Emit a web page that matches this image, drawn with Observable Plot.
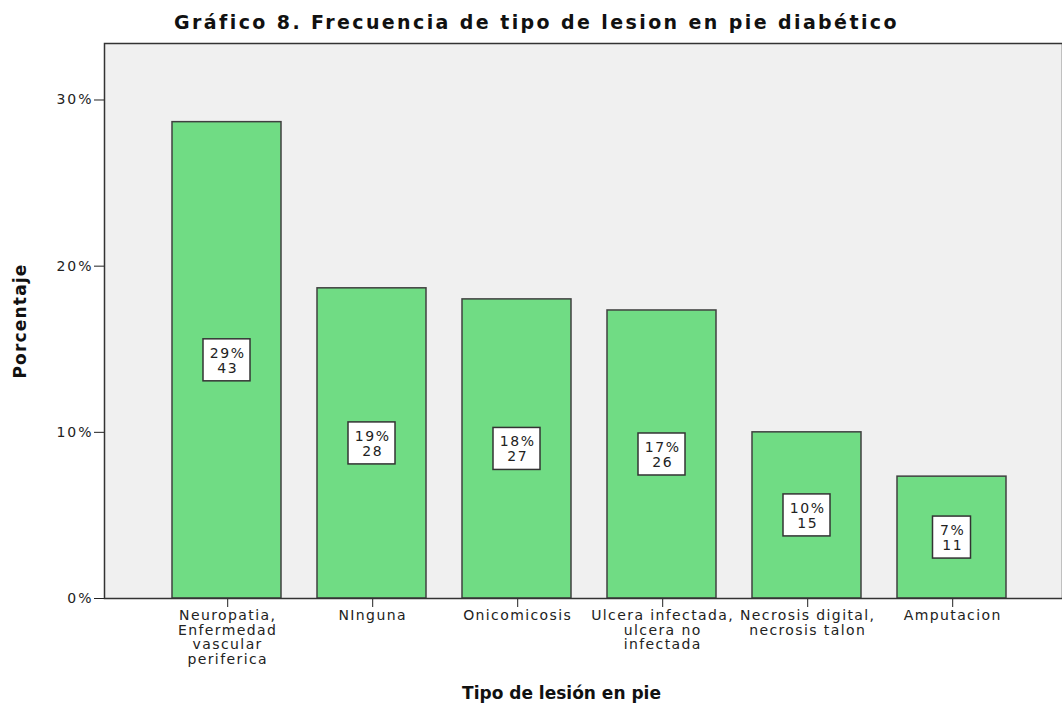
<!DOCTYPE html>
<html>
<head>
<meta charset="utf-8">
<script src="https://cdn.jsdelivr.net/npm/d3@7"></script>
<script src="https://cdn.jsdelivr.net/npm/@observablehq/plot@0.6"></script>
<style>
  html, body { margin: 0; padding: 0; background: white; }
  text[aria-label="title"] { letter-spacing: 2.4px; }
  text[aria-label="y title"] { letter-spacing: 1.2px; }
  g[aria-label="y-axis tick label"] text { letter-spacing: 2px; }
  g[aria-label="x-axis tick label"] text { letter-spacing: 1.4px; }
  text[aria-label="bar label"] { letter-spacing: 1.6px; }
</style>
</head>
<body>
<div id="chart"></div>
<script>
const titleText = "Gráfico 8. Frecuencia de tipo de lesion en pie diabético";
const xTitle = "Tipo de lesión en pie";
const yTitle = "Porcentaje";
const categories = [
  "Neuropatia, Enfermedad vascular periferica",
  "NInguna",
  "Onicomicosis",
  "Ulcera infectada, ulcera no infectada",
  "Necrosis digital, necrosis talon",
  "Amputacion"
];
const tickLabels = [
  "Neuropatia,\nEnfermedad\nvascular\nperiferica",
  "NInguna",
  "Onicomicosis",
  "Ulcera infectada,\nulcera no\ninfectada",
  "Necrosis digital,\nnecrosis talon",
  "Amputacion"
];
const counts = [43, 28, 27, 26, 15, 11];
const percentLabels = ["29%", "19%", "18%", "17%", "10%", "7%"];
const total = 150;
const yTicks = [0, 10, 20, 30];

const data = categories.map((c, i) => ({
  cat: c,
  pct: counts[i] / total * 100,
  pctLabel: percentLabels[i],
  label: percentLabels[i] + "\n" + counts[i]
}));
const wide = data.filter(d => d.pctLabel.length > 2);
const narrow = data.filter(d => d.pctLabel.length <= 2);

const boxStyle = { x: "cat", y1: d => d.pct / 2, y2: d => d.pct / 2, fill: "white", stroke: "#333", strokeWidth: 1.5,
  insetTop: -21, insetBottom: -21 };

const chart = Plot.plot({
  width: 1062,
  height: 709,
  marginLeft: 104,
  marginRight: 0,
  marginTop: 43,
  marginBottom: 111,
  style: { fontFamily: "DejaVu Sans", fontSize: "13px", background: "white", color: "#222" },
  x: { domain: categories, paddingInner: 0.245, paddingOuter: 0.42, align: 0.551, label: null },
  y: { domain: [0, 33.4], label: null },
  marks: [
    Plot.frame({ fill: "#f0f0f0" }),
    Plot.barY(data, { x: "cat", y1: 0, y2: "pct", fill: "#70dc84", stroke: "#404040", strokeWidth: 1.5 }),
    Plot.barY(wide, { ...boxStyle, insetLeft: 31, insetRight: 31 }),
    Plot.barY(narrow, { ...boxStyle, insetLeft: 35.5, insetRight: 35.5 }),
    Plot.text(data, { x: "cat", y: d => d.pct / 2, text: "label", lineHeight: 1.08, fontSize: 14, fill: "#222", dx: 0.8, ariaLabel: () => "bar label" }),
    Plot.axisY({ ticks: yTicks, tickFormat: d => d + "%", tickSize: 10, tickPadding: 1, fontSize: 14, stroke: "#222" }),
    Plot.axisX({ tickFormat: d => tickLabels[categories.indexOf(d)], tickSize: 9, tickPadding: 2, lineHeight: 1.05, fontSize: 14, stroke: "#222", dx: 0.7 }),
    Plot.frame({ stroke: "#333", strokeWidth: 1.5 }),
    Plot.text([titleText], { frameAnchor: "top", lineAnchor: "middle", dy: -21, dx: -47, fontSize: 19, fontWeight: "bold", fill: "#111", ariaLabel: () => "title" }),
    Plot.text([xTitle], { frameAnchor: "bottom", lineAnchor: "middle", dy: 95, dx: -22, fontSize: 17, fontWeight: "bold", fill: "#111" }),
    Plot.text([yTitle], { frameAnchor: "left", textAnchor: "middle", lineAnchor: "middle", dx: -84, rotate: -90, fontSize: 17, fontWeight: "bold", fill: "#111", ariaLabel: () => "y title" })
  ]
});
document.getElementById("chart").appendChild(chart);
</script>
</body>
</html>
